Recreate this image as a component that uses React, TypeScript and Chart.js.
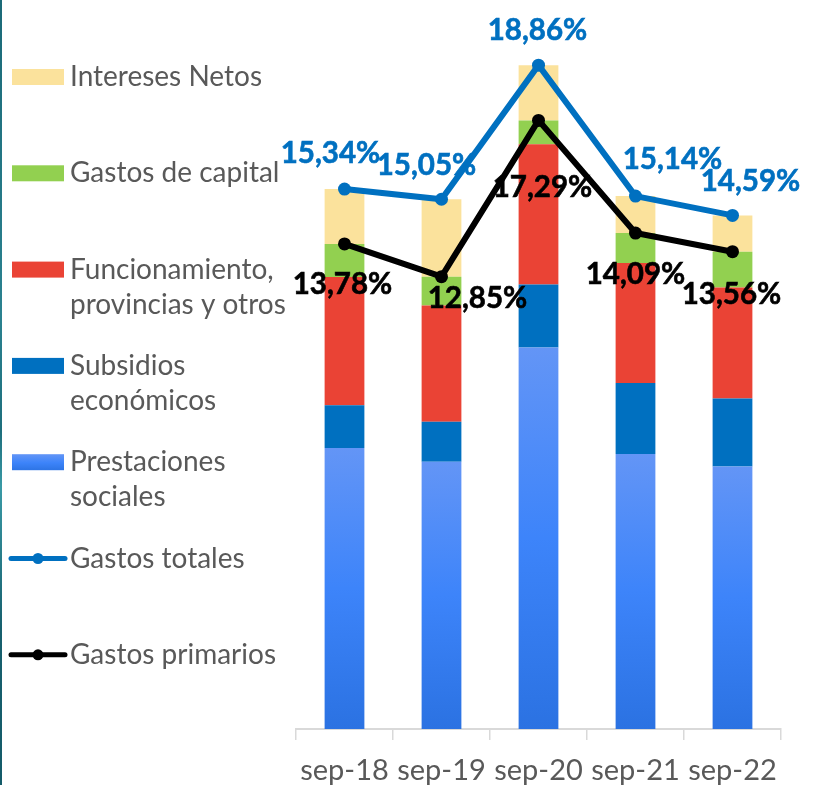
import React, { useEffect, useRef } from "react";
import { Chart, registerables } from "chart.js";

Chart.register(...registerables);

// ---- Data ----
const categories = ["sep-18", "sep-19", "sep-20", "sep-21", "sep-22"];
const prestacionesSociales = [7.98, 7.59, 10.84, 7.81, 7.46];
const subsidiosEconomicos = [1.22, 1.14, 1.79, 2.02, 1.93];
const funcionamiento = [3.64, 3.3, 3.98, 3.41, 3.15];
const gastosCapital = [0.94, 0.82, 0.68, 0.85, 1.02];
const interesesNetos = [1.56, 2.2, 1.57, 1.05, 1.03];
const gastosTotales = [15.34, 15.05, 18.86, 15.14, 14.59];
const gastosPrimarios = [13.78, 12.85, 17.29, 14.09, 13.56];

// label text offsets (dx, dy) in px for the two line series' value labels
const totalLabelOffsets = [[-14, -36], [-15, -34], [-1, -35], [37, -37], [18, -34]];
const primaryLabelOffsets = [[-2, 41], [36, 22], [4, 67], [0, 41], [-1, 43]];

const FONT = "Lato, 'Noto Sans', sans-serif";
const TEXT_GRAY = "#595959";
const BLUE = "#0070C0";

const fmt = (v: number) => v.toFixed(2).replace(".", ",") + "%";

function prestGradient(ctx: CanvasRenderingContext2D, top: number, bottom: number) {
  const g = ctx.createLinearGradient(0, top, 0, bottom);
  g.addColorStop(0, "#6395F6");
  g.addColorStop(0.5, "#3D84FA");
  g.addColorStop(1, "#2B72E2");
  return g;
}

const legendPlugin = {
  id: "sideLegend",
  afterDraw(chart: any) {
    const ctx: CanvasRenderingContext2D = chart.ctx;
    // legend order: bars top..bottom (dataset idx 6..2), then the two lines (0, 1)
    const order = [6, 5, 4, 3, 2, 0, 1];
    ctx.save();
    order.forEach((dsIndex, i) => {
      const ds = chart.data.datasets[dsIndex];
      const y = 77 + i * 96.3;
      if (ds.type === "line") {
        ctx.strokeStyle = ds.borderColor;
        ctx.lineWidth = 5;
        ctx.lineCap = "round";
        ctx.beginPath();
        ctx.moveTo(11, y);
        ctx.lineTo(65, y);
        ctx.stroke();
        ctx.fillStyle = ds.borderColor;
        ctx.beginPath();
        ctx.arc(38, y, 5.5, 0, Math.PI * 2);
        ctx.fill();
      } else {
        const top = y - 8;
        ctx.fillStyle = ds.backgroundColor;
        if (ds.legendGradient) ctx.fillStyle = prestGradient(ctx, top, top + 17);
        ctx.fillRect(12, top, 52, 16);
      }
      const lines = String(ds.label).split("\n");
      ctx.fillStyle = TEXT_GRAY;
      ctx.font = `28px ${FONT}`;
      ctx.textAlign = "left";
      ctx.textBaseline = "middle";
      lines.forEach((t, j) => ctx.fillText(t, 70, y + j * 35));
    });
    ctx.restore();
  },
};

const valueLabelPlugin = {
  id: "valueLabels",
  afterDatasetsDraw(chart: any) {
    const ctx: CanvasRenderingContext2D = chart.ctx;
    ctx.save();
    ctx.font = `bold 29.5px ${FONT}`;
    ctx.textAlign = "center";
    ctx.textBaseline = "middle";
    const specs = [
      { idx: 0, offs: totalLabelOffsets, color: BLUE },
      { idx: 1, offs: primaryLabelOffsets, color: "#000000" },
    ];
    specs.forEach(({ idx, offs, color }) => {
      const meta = chart.getDatasetMeta(idx);
      const data = chart.data.datasets[idx].data as number[];
      ctx.fillStyle = color;
      ctx.strokeStyle = color;
      ctx.lineWidth = 0.6;
      meta.data.forEach((pt: any, i: number) => {
        const x = pt.x + offs[i][0];
        const y = pt.y + offs[i][1];
        ctx.fillText(fmt(data[i]), x, y);
        ctx.strokeText(fmt(data[i]), x, y);
      });
    });
    ctx.restore();
  },
};

export default function App() {
  const ref = useRef<HTMLCanvasElement | null>(null);

  useEffect(() => {
    if (!ref.current) return;
    const chart = new Chart(ref.current, {
      type: "bar",
      data: {
        labels: categories,
        datasets: [
          {
            type: "line",
            label: "Gastos totales",
            data: gastosTotales,
            borderColor: BLUE,
            backgroundColor: BLUE,
            borderWidth: 6,
            pointRadius: 6.5,
            pointBackgroundColor: BLUE,
            pointBorderWidth: 0,
            stack: "tot",
            order: 0,
          } as any,
          {
            type: "line",
            label: "Gastos primarios",
            data: gastosPrimarios,
            borderColor: "#000000",
            backgroundColor: "#000000",
            borderWidth: 6,
            pointRadius: 6.5,
            pointBackgroundColor: "#000000",
            pointBorderWidth: 0,
            stack: "prim",
            order: 0,
          } as any,
          {
            label: "Prestaciones\nsociales",
            data: prestacionesSociales,
            legendGradient: true,
            backgroundColor: (c: any) => {
              const ch = c.chart;
              if (!ch.chartArea || c.type !== "data") return "#4A8AF8";
              const ys = ch.scales.y;
              const top = ys.getPixelForValue(c.raw);
              const bottom = ys.getPixelForValue(0);
              return prestGradient(ch.ctx, top, bottom);
            },
            stack: "bars",
            order: 1,
          } as any,
          {
            label: "Subsidios\neconómicos",
            data: subsidiosEconomicos,
            backgroundColor: "#0070C0",
            stack: "bars",
            order: 1,
          },
          {
            label: "Funcionamiento,\nprovincias y otros",
            data: funcionamiento,
            backgroundColor: "#EA4335",
            stack: "bars",
            order: 1,
          },
          {
            label: "Gastos de capital",
            data: gastosCapital,
            backgroundColor: "#92D050",
            stack: "bars",
            order: 1,
          },
          {
            label: "Intereses Netos",
            data: interesesNetos,
            backgroundColor: "#FBE29C",
            stack: "bars",
            order: 1,
          },
        ],
      },
      options: {
        responsive: false,
        animation: false,
        layout: { padding: { left: 296, right: 34, top: 25, bottom: 0 } },
        datasets: { bar: { barPercentage: 0.41, categoryPercentage: 1 } } as any,
        plugins: {
          legend: { display: false },
          tooltip: { enabled: false },
        },
        scales: {
          x: {
            stacked: true,
            grid: {
              drawOnChartArea: false,
              color: "#D9D9D9",
              lineWidth: 1.5,
              tickLength: 11,
              offset: true,
            },
            border: { color: "#D9D9D9", width: 2 },
            ticks: {
              color: TEXT_GRAY,
              font: { family: FONT, size: 29 },
              padding: 13,
              maxRotation: 0,
            },
            afterFit: (scale: any) => {
              scale.height = 56;
            },
          },
          y: {
            stacked: true,
            display: false,
            min: 0,
            max: 20,
          },
        },
      },
      plugins: [legendPlugin, valueLabelPlugin],
    });
    return () => chart.destroy();
  }, []);

  return (
    <div style={{ position: "absolute", left: 0, top: 0, width: 815, height: 785, background: "#fff", overflow: "hidden" }}>
      <div
        style={{
          position: "absolute",
          left: 0,
          top: 0,
          width: 2,
          height: 785,
          background: "linear-gradient(to bottom, #1B6A78, #2B8290 40%, #1E6F7D 55%, #3A9AA6 62%, #17606E 80%, #145B69)",
        }}
      />
      <canvas ref={ref} width={815} height={785} style={{ position: "absolute", left: 0, top: 0, width: 815, height: 785 }} />
    </div>
  );
}
